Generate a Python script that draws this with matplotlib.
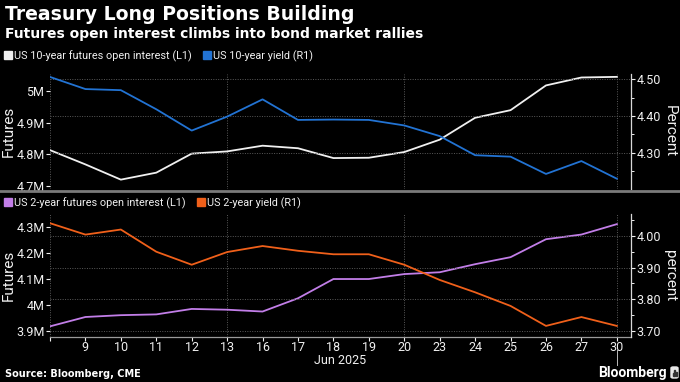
import matplotlib
matplotlib.use("Agg")
import matplotlib.pyplot as plt
from matplotlib.lines import Line2D
from matplotlib.patches import FancyBboxPatch, Rectangle
from matplotlib.transforms import blended_transform_factory
import numpy as np

# ---------------- data ----------------
day_labels = ['', '9', '10', '11', '12', '13', '16', '17', '18', '19', '20',
              '23', '24', '25', '26', '27', '30']
month_label = 'Jun 2025'

ten_year_oi = [4.813, 4.768, 4.720, 4.742, 4.802, 4.809, 4.827, 4.819, 4.788,
               4.789, 4.807, 4.846, 4.915, 4.939, 5.017, 5.042, 5.044]
ten_year_yield = [4.506, 4.473, 4.470, 4.418, 4.360, 4.398, 4.445, 4.389, 4.390,
                  4.389, 4.374, 4.345, 4.293, 4.289, 4.242, 4.277, 4.229]
two_year_oi = [3.919, 3.955, 3.962, 3.965, 3.986, 3.983, 3.976, 4.027, 4.101,
               4.101, 4.120, 4.127, 4.158, 4.185, 4.254, 4.272, 4.312]
two_year_yield = [4.040, 4.004, 4.020, 3.950, 3.909, 3.949, 3.968, 3.953, 3.942,
                  3.942, 3.909, 3.861, 3.822, 3.779, 3.716, 3.744, 3.716]

top_left_ticks = [4.7, 4.8, 4.9, 5.0]
top_left_labels = ['4.7M', '4.8M', '4.9M', '5M']
top_right_ticks = [4.30, 4.40, 4.50]
bot_left_ticks = [3.9, 4.0, 4.1, 4.2, 4.3]
bot_left_labels = ['3.9M', '4M', '4.1M', '4.2M', '4.3M']
bot_right_ticks = [3.70, 3.80, 3.90, 4.00]
vgrid_idx = [0, 5, 10, 16]

# ---------------- style ----------------
plt.rcParams['font.family'] = ['Roboto', 'DejaVu Sans']
BG = '#000000'
WHITE = '#f0f0f0'
BLUE = '#2273d3'
PURPLE = '#c27ee8'
ORANGE = '#f0601a'
GRID = '#5a5a5a'

W, H = 680, 382
fig = plt.figure(figsize=(W / 100, H / 100), dpi=100, facecolor=BG)

def fx(px):
    return px / W

def fy(py):
    return 1 - py / H

x = np.arange(len(day_labels))
left_px, right_px = 50, 631


def make_panel(top_px, bot_px):
    ax = fig.add_axes([fx(left_px), fy(bot_px), fx(right_px - left_px),
                       (bot_px - top_px) / H])
    ax.set_facecolor(BG)
    ax2 = ax.twinx()
    ax2.patch.set_visible(False)
    ax.set_xlim(0, 16.4)
    for s in ax.spines.values():
        s.set_visible(False)
    for s in ax2.spines.values():
        s.set_visible(False)
    ax2.spines['right'].set_visible(True)
    ax2.spines['right'].set_color('#d8d8d8')
    ax2.spines['right'].set_linewidth(0.9)
    ax.tick_params(axis='y', which='both', left=True, right=False, length=3,
                   width=0.8, color=WHITE, labelcolor=WHITE, labelsize=9, pad=1)
    ax2.tick_params(axis='y', which='major', right=True, length=3, width=0.8,
                    color=WHITE, labelcolor=WHITE, labelsize=9, pad=1)
    ax2.tick_params(axis='y', which='minor', right=True, length=2, width=0.7,
                    color=WHITE)
    for i in vgrid_idx:
        ax.axvline(i, color=GRID, lw=0.7, ls=(0, (1, 1.5)), zorder=0)
    return ax, ax2


# ---------------- top panel ----------------
axt, axt2 = make_panel(74, 189)
axt.set_ylim(4.6905, 5.053)
axt2.set_ylim(4.201, 4.514)
axt.set_yticks(top_left_ticks)
axt.set_yticklabels(top_left_labels)
axt2.set_yticks(top_right_ticks)
axt2.set_yticklabels([f'{v:.2f}' for v in top_right_ticks])
axt2.set_yticks([4.25, 4.35, 4.45], minor=True)
axt.set_xticks([])
for v in top_right_ticks:
    axt2.axhline(v, color=GRID, lw=0.7, ls=(0, (1, 1.5)), zorder=0)
axt.plot(x, ten_year_oi, color=WHITE, lw=1.3, zorder=3)
axt2.plot(x, ten_year_yield, color=BLUE, lw=1.3, zorder=3)
axt.set_ylabel('Futures', color=WHITE, fontsize=11, va='center')
axt.yaxis.set_label_coords(-0.0706, 0.5)
axt2.set_ylabel('Percent', color=WHITE, fontsize=11, rotation=270, va='center')
axt2.yaxis.set_label_coords(1.067, 0.5)

# ---------------- bottom panel ----------------
axb, axb2 = make_panel(214, 336.5)
axb.set_ylim(3.880, 4.351)
axb2.set_ylim(3.6826, 4.069)
axb.set_yticks(bot_left_ticks)
axb.set_yticklabels(bot_left_labels)
axb2.set_yticks(bot_right_ticks)
axb2.set_yticklabels([f'{v:.2f}' for v in bot_right_ticks])
axb2.set_yticks([3.75, 3.85, 3.95, 4.05], minor=True)
axb.set_xticks(x)
axb.set_xticklabels(day_labels)
axb.tick_params(axis='x', length=3, width=0.8, color=WHITE, labelcolor=WHITE,
                labelsize=9, pad=0.5)
axb.spines['bottom'].set_visible(True)
axb.spines['bottom'].set_color('#9a9a9a')
axb.spines['bottom'].set_linewidth(0.9)
for v in bot_right_ticks:
    axb2.axhline(v, color=GRID, lw=0.7, ls=(0, (1, 1.5)), zorder=0)
axb.plot(x, two_year_oi, color=PURPLE, lw=1.3, zorder=3)
axb2.plot(x, two_year_yield, color=ORANGE, lw=1.3, zorder=3)
axb.set_ylabel('Futures', color=WHITE, fontsize=11, va='center')
axb.yaxis.set_label_coords(-0.0706, 0.5)
axb2.set_ylabel('percent', color=WHITE, fontsize=11, rotation=270, va='center')
axb2.yaxis.set_label_coords(1.067, 0.5)

fig.text(fx(340), fy(360.5), month_label, color=WHITE, fontsize=9,
         ha='center', va='center')

# ---------------- legends ----------------
def sq(c):
    return Line2D([], [], marker='s', ls='none', color=c, markersize=5.4)

leg_kw = dict(ncol=2, frameon=False, fontsize=7.8, handlelength=0.7,
              handletextpad=0.25, columnspacing=1.0, borderaxespad=0,
              borderpad=0, labelcolor=WHITE, loc='center left')
fig.legend([sq(WHITE), sq(BLUE)],
           ['US 10-year futures open interest (L1)', 'US 10-year yield (R1)'],
           bbox_to_anchor=(fx(4), fy(56)), **leg_kw)
fig.legend([sq(PURPLE), sq(ORANGE)],
           ['US 2-year futures open interest (L1)', 'US 2-year yield (R1)'],
           bbox_to_anchor=(fx(4), fy(203)), **leg_kw)

# ---------------- titles / footer ----------------
fig.text(fx(5), fy(20.5), 'Treasury Long Positions Building', color='white',
         fontsize=13.6, fontweight='bold', family='DejaVu Sans', va='baseline')
fig.text(fx(5), fy(38), 'Futures open interest climbs into bond market rallies',
         color='white', fontsize=10, fontweight='bold', family='DejaVu Sans',
         va='baseline')
fig.text(fx(5), fy(377), 'Source: Bloomberg, CME', color='white', fontsize=7,
         fontweight='bold', family='DejaVu Sans', va='baseline')

# separator between panels
fig.add_artist(Line2D([0, 1], [fy(191), fy(191)], color='#7a7a7a', lw=2,
                      transform=fig.transFigure))

# pointer line below last tick
tr = blended_transform_factory(axb.transData, fig.transFigure)
fig.add_artist(Line2D([16, 16], [fy(350), fy(365)], color='#bbbbbb', lw=0.7,
                      transform=tr))

fig.text(fx(667), fy(373), 'Bloomberg', color='white', fontsize=10,
         fontweight='semibold', ha='right', va='center')
fig.add_artist(FancyBboxPatch((fx(671), fy(378)), fx(7), (11 / H),
                              boxstyle='round,pad=0,rounding_size=0.003',
                              transform=fig.transFigure, color='#e8e8e8'))
for i, hgt in enumerate([3, 6, 4]):
    fig.add_artist(Rectangle((fx(672.5 + i * 1.6), fy(375.5)), fx(1.0), hgt / H,
                             transform=fig.transFigure, color='#333333'))

fig.savefig('out.png', dpi=100, facecolor=BG)
